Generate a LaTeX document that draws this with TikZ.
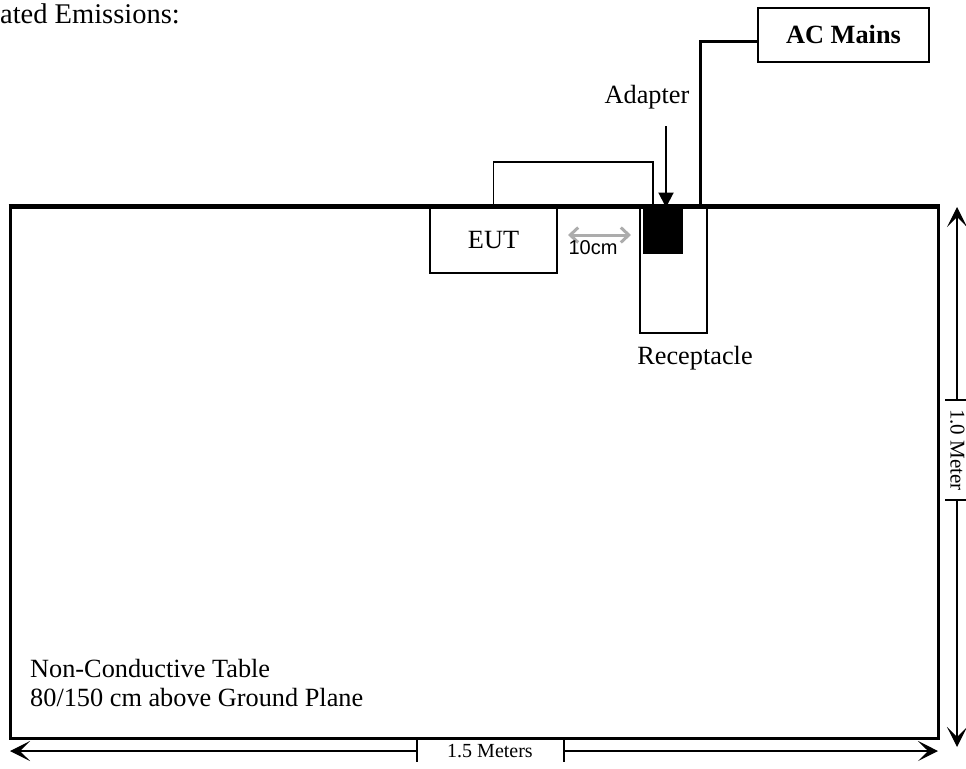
\documentclass[tikz,border=0pt]{standalone}
\usepackage{fontspec}
\setmainfont{Liberation Serif}
\newfontfamily\arialfont{Liberation Sans}
\usetikzlibrary{arrows.meta,calc}
\begin{document}
\begin{tikzpicture}[x=1pt,y=-1pt,
  box/.style={draw,line width=1.5pt,inner sep=0pt,fill=white},
  lbl/.style={font=\fontsize{26.3}{30}\selectfont,inner sep=0pt},
  dimlbl/.style={font=\fontsize{20}{24}\selectfont,inner sep=0pt},
  dimline/.style={line width=1.2pt},
  bigtip/.style={-{Stealth[length=20pt,width=20pt,inset=10pt]}},
]
\useasboundingbox (0,0) rectangle (966,768);
% title
\node[font=\fontsize{28.5}{32}\selectfont,inner sep=0pt,anchor=base east] (title) at (180,24) {ated Emissions:};
% table
\node[draw,line width=3pt,minimum width=928pt,minimum height=531pt,inner sep=0pt] (table) at (474,472.5) {};
% EUT
\node[box,minimum width=127pt,minimum height=65pt,lbl] (eut) at (493.5,240.5) {EUT};
% receptacle
\node[box,minimum width=67pt,minimum height=125pt] (rec) at (673.5,270.5) {};
% adapter
\node[draw,fill=black,line width=1pt,minimum width=39pt,minimum height=45pt,inner sep=0pt] (adapter) at (662.5,230.5) {};
% redraw table top edge over boxes
\draw[line width=3pt] (table.north west) -- (table.north east);
% AC mains
\node[box,minimum width=171pt,minimum height=54pt,lbl,font=\fontsize{26.3}{30}\selectfont\bfseries] (ac) at (843.5,35) {AC Mains};
% EUT cable loop
\draw[line width=1.7pt] (eut.north) |- ++(159.5,-45) coordinate (loopend) -- (loopend |- adapter.north);
% AC cable
\draw[line width=3pt] ([xshift=-7pt]rec.north east) |- ([yshift=-7pt]ac.west);
% labels
\node[lbl,anchor=center] (adlbl) at (647,97) {Adapter};
\node[lbl,anchor=center] (reclbl) at (695,358) {Receptacle};
\coordinate (adtail) at (666,126);
\draw[line width=2pt,-{Triangle[length=15pt,width=15pt]}] (adtail) -- (adtail |- adapter.north);
% 10cm arrow
\coordinate (ga) at (568,235);
\coordinate (gb) at (631,235);
\draw[line width=3pt,gray!65,{Straight Barb[length=8pt,width=15pt]}-{Straight Barb[length=8pt,width=15pt]}] (ga) -- (gb);
\node[font=\arialfont\fontsize{20}{24}\selectfont,inner sep=0pt] (tencm) at (593,248) {10cm};
% table notes
\node[lbl,anchor=base west,align=left] (note1) at (30,677) {Non-Conductive Table};
\node[lbl,anchor=base west,align=left] (note2) at (30,706) {80/150 cm above Ground Plane};
% bottom dimension
\coordinate (bl) at (10,751);
\coordinate (br) at (938,751);
\coordinate (bt1) at (417,751);
\coordinate (bt2) at (564,751);
\draw[dimline,bigtip] (bt1) -- (bl);
\draw[dimline,bigtip] (bt2) -- (br);
\draw[dimline] ([yshift=11pt]bt1) -- ([yshift=-11pt]bt1);
\draw[dimline] ([yshift=11pt]bt2) -- ([yshift=-11pt]bt2);
\node[dimlbl] (bottomlbl) at (490,751) {1.5 Meters};
% right dimension
\coordinate (rt) at (957,207);
\coordinate (rb) at (957,747);
\coordinate (rt1) at (957,400);
\coordinate (rt2) at (957,500);
\draw[dimline,bigtip] (rt1) -- (rt);
\draw[dimline,bigtip] (rt2) -- (rb);
\draw[dimline] ([xshift=-12pt]rt1) -- ([xshift=12pt]rt1);
\draw[dimline] ([xshift=-12pt]rt2) -- ([xshift=12pt]rt2);
\node[font=\fontsize{21}{24}\selectfont,inner sep=0pt,rotate=-90,anchor=base] (rightlbl) at (950.5,450) {1.0 Meter};
\end{tikzpicture}
\end{document}
